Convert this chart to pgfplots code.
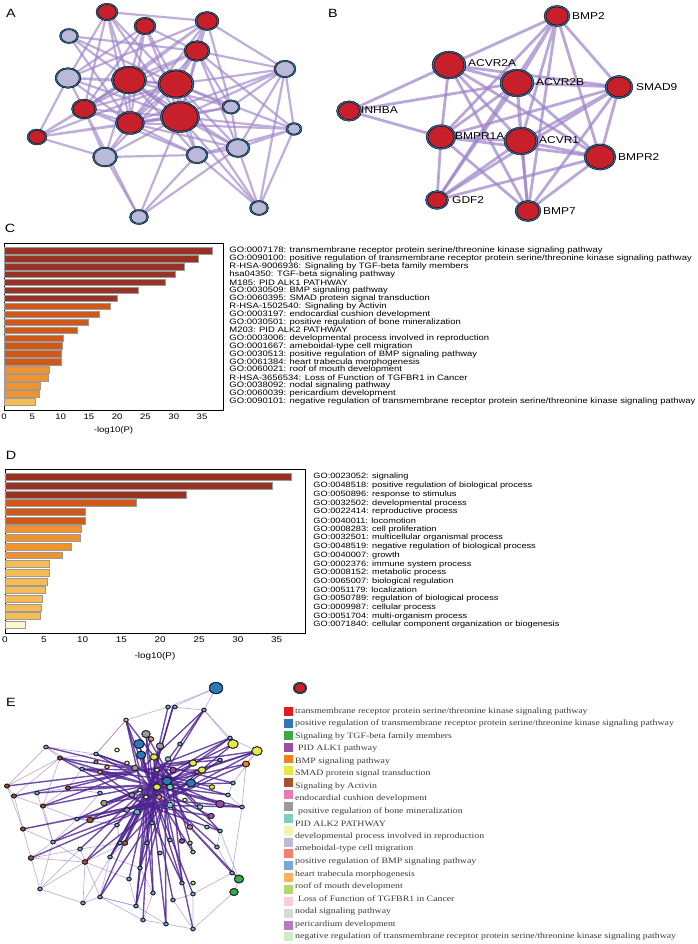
\documentclass[border=0pt]{standalone}
\usepackage{fontspec}
\setmainfont{Liberation Sans}[FakeStretch=1.2]
\newfontfamily\legfont{Liberation Serif}[FakeStretch=1.2]
\usepackage{pgfplots}
\usepackage{pgfplotstable}
\pgfplotsset{compat=1.18}
\definecolor{nred}{HTML}{C8202A}
\definecolor{nlav}{HTML}{B9B9D9}
\definecolor{nbord}{HTML}{2E72A6}
\definecolor{edgeA}{HTML}{9C82C8}
\definecolor{edgeDark}{HTML}{4B1F8E}
\definecolor{edgeLight}{HTML}{8B6FC0}
\definecolor{cDark}{HTML}{983224}
\definecolor{cOr}{HTML}{D0591A}
\definecolor{cLor}{HTML}{F0922E}
\definecolor{cYel}{HTML}{F5BB55}
\definecolor{cPale}{HTML}{FBF6D2}
\definecolor{barEdge}{HTML}{9A9A9A}
\definecolor{e1}{HTML}{E41A1C}
\definecolor{e2}{HTML}{2F78B8}
\definecolor{e3}{HTML}{3FA846}
\definecolor{e4}{HTML}{984EA3}
\definecolor{e5}{HTML}{F47F20}
\definecolor{e6}{HTML}{E8E840}
\definecolor{e7}{HTML}{A5522A}
\definecolor{e8}{HTML}{E57CB5}
\definecolor{e9}{HTML}{9A9A9A}
\definecolor{e10}{HTML}{7FCDBB}
\definecolor{e11}{HTML}{F5F1B0}
\definecolor{e12}{HTML}{BEBADA}
\definecolor{e13}{HTML}{F58071}
\definecolor{e14}{HTML}{7AA8D2}
\definecolor{e15}{HTML}{FBB060}
\definecolor{e16}{HTML}{B0D86A}
\definecolor{e17}{HTML}{F9CCE2}
\definecolor{e18}{HTML}{D9D9D9}
\definecolor{e19}{HTML}{B57BBE}
\definecolor{e20}{HTML}{CDEBC6}
\definecolor{ebord}{HTML}{4A88BA}
\definecolor{legtext}{HTML}{3A3A3A}
\pgfplotsset{
  netdot/.style n args={3}{scatter, only marks, mark=*, point meta=y,
    scatter/use mapped color={draw=none, fill=#1},
    visualization depends on={\thisrow{r}-#3 \as \rr},
    scatter/@pre marker code/.append style={/tikz/mark size=\rr, /tikz/yscale=#2}},
  aedge/.style={mark=none, color=edgeA, draw opacity=0.65, line width=2.2pt, line join=round, line cap=round},
  bedge/.style={mark=none, color=edgeA, draw opacity=0.7, line width=2.8pt, line join=round, line cap=round},
  dedge/.style={mark=none, color=edgeDark, draw opacity=0.8, line width=1.4pt, line join=round, line cap=round},
  ledge/.style={mark=none, color=edgeLight, draw opacity=0.55, line width=0.7pt, line join=round, line cap=round},
  legsq/.style={only marks, mark=square*, mark size=4, mark options={fill=#1, draw=#1}},
}
% node tables: x, y (pixels from top-left), r (radius)
\pgfplotstableread{
x y r
69 36 9.5
68 78 13
285 69 11
231 107 9
294 129 8
105 157 12.5
197 155 11
238 148 12
259 208 9.5
139 217 9.5
}\Alav
\pgfplotstableread{
x y r
107 12 11
145 26 11
207 21 12
197 51 13
129 80 17.5
176 84 18
180 117 19.5
84 109 12.5
130 123 14.5
37 137 10
}\Ared
\pgfplotstableread{
x y r
557 16 13
449 65 17
517 83 17
619 87 14
349 111 12.5
441 137 15
521 141 17
600 157 16
437 200 11.5
528 211 13
}\Bred
\pgfplotstableread{
x y r
46 747 2.5
37 793 2.5
40 889 2.5
83 903 2.5
136 906 2.5
166 924 2.5
193 929 2.5
232 873 2.5
242 807 2.5
204 710 2.5
168 707 2.5
175 707 2.5
53 842 2.5
100 793 2.5
77 819 2.5
80 849 2.5
100 897 2.5
129 879 2.5
193 894 2.5
220 831 2.5
180 744 2.5
96 754 2.5
82 769 2.5
110 857 2.5
140 868 2.5
152 823 2.5
137 812 3.5
147 843 2.5
170 840 2.5
160 853 2.5
182 883 2.5
173 900 2.5
153 893 2.5
117 825 2.5
120 843 2.5
143 920 2.5
217 847 2.5
233 783 2.5
230 738 2.5
220 760 2.5
}\Eblue
\pgfplotstableread{
x y r
117 750 2.5
127 763 2.5
146 797 2.5
157 770 2.5
140 790 2.5
185 800 2.5
}\Elyel
\pgfplotstableread{
x y r
126 720 2.5
107 767 2.5
100 772 2.5
96 762 2.3
}\Elor
\pgfplotstableread{
x y r
190 843 2.5
193 883 2.5
}\Elime
\pgfplotstableread{
x y r
90 820 3.5
125 843 3
31 858 3
85 862 3
60 758 2.7
14 796 2.7
23 829 2.7
7 786 2.7
43 806 2.7
68 788 2.7
}\Ebrown
\pgfplotstableread{
x y r
159 797 3
151 739 3
197 772 2.5
}\Esalmon
\pgfplotstableread{
x y r
170 787 3.5
170 805 3.5
168 759 3
200 807 3
207 827 2.5
228 795 2.5
193 852 2.5
}\Eteal
\pgfplotstableread{
x y r
146 734 4.5
160 746 4
135 768 3.5
132 795 3
104 803 3.5
127 810 3
}\Egray
\pgfplotstableread{
x y r
220 804 4.5
211 816 3.5
173 770 3.5
182 841 3
}\Epurple
\pgfplotstableread{
x y r
190 827 3
}\Epurpleb
\pgfplotstableread{
x y r
233 744 5.5
257 751 5.5
154 757 4
193 763 4
202 770 4
157 787 4
212 787 3
}\Eyellow
\pgfplotstableread{
x y r
246 764 3.7
}\Eorange
\pgfplotstableread{
x y r
239 879 5
234 892 4.5
}\Egreen
\pgfplotstableread{
x y r
216 688 7
139 744 5.5
141 755 5
167 781 5
191 783 5
}\Ebig
\pgfplotstableread{
x y r
300 688 6.8
}\Leg
\newcommand{\legf}{\legfont\fontsize{8.2}{9}\selectfont}
\newcommand{\bl}{\fontsize{10}{10}\selectfont}
\begin{document}
\begin{tikzpicture}
\useasboundingbox (0,0) rectangle (698bp,944bp);
\begin{axis}[at={(0,0)}, anchor=south west, scale only axis, width=698bp, height=944bp,
  xmin=0, xmax=698, ymin=0, ymax=944, y dir=reverse, axis lines=none, clip=false, ticks=none]
% ---------------- Panel A edges
\addplot[aedge] coordinates {(107,12) (207,21) (107,12) (129,80) (107,12) (176,84) (107,12) (180,117) (107,12) (84,109) (107,12) (130,123) (107,12) (68,78)};
\addplot[aedge] coordinates {(145,26) (129,80) (145,26) (176,84) (145,26) (180,117) (145,26) (84,109) (145,26) (130,123) (145,26) (68,78) (145,26) (197,51)};
\addplot[aedge] coordinates {(207,21) (197,51) (207,21) (129,80) (207,21) (176,84) (207,21) (84,109) (207,21) (285,69) (207,21) (130,123) (207,21) (180,117) (207,21) (68,78) (207,21) (231,107)};
\addplot[aedge] coordinates {(197,51) (129,80) (197,51) (176,84) (197,51) (180,117) (197,51) (285,69) (197,51) (238,148) (197,51) (231,107) (197,51) (84,109) (197,51) (130,123) (197,51) (69,36) (197,51) (294,129)};
\addplot[aedge] coordinates {(69,36) (129,80) (69,36) (176,84) (69,36) (180,117) (69,36) (130,123)};
\addplot[aedge] coordinates {(68,78) (129,80) (68,78) (176,84) (68,78) (84,109) (68,78) (180,117) (68,78) (130,123) (68,78) (37,137)};
\addplot[aedge] coordinates {(285,69) (176,84) (285,69) (180,117) (285,69) (231,107) (285,69) (294,129) (285,69) (238,148) (285,69) (259,208) (285,69) (130,123)};
\addplot[aedge] coordinates {(294,129) (180,117) (294,129) (238,148) (294,129) (259,208) (294,129) (176,84) (294,129) (130,123) (294,129) (197,155)};
\addplot[aedge] coordinates {(37,137) (84,109) (37,137) (129,80) (37,137) (180,117) (37,137) (105,157) (37,137) (130,123) (37,137) (176,84)};
\addplot[aedge] coordinates {(84,109) (129,80) (84,109) (176,84) (84,109) (180,117) (84,109) (130,123) (84,109) (105,157) (84,109) (197,155) (84,109) (139,217)};
\addplot[aedge] coordinates {(129,80) (176,84) (129,80) (180,117) (129,80) (130,123) (129,80) (105,157) (129,80) (197,155) (129,80) (238,148) (129,80) (231,107)};
\addplot[aedge] coordinates {(176,84) (180,117) (176,84) (130,123) (176,84) (197,155) (176,84) (238,148) (176,84) (105,157) (176,84) (231,107) (176,84) (259,208)};
\addplot[aedge] coordinates {(180,117) (130,123) (180,117) (197,155) (180,117) (238,148) (180,117) (105,157) (180,117) (259,208) (180,117) (231,107) (180,117) (139,217)};
\addplot[aedge] coordinates {(130,123) (105,157) (130,123) (197,155) (130,123) (238,148) (130,123) (231,107)};
\addplot[aedge] coordinates {(105,157) (197,155) (105,157) (139,217)};
\addplot[aedge] coordinates {(197,155) (259,208) (197,155) (139,217) (197,155) (238,148)};
\addplot[aedge] coordinates {(238,148) (259,208) (238,148) (139,217) (238,148) (231,107)};
% Panel A nodes (border layer, then fill layer)
\addplot[netdot={nbord}{0.8}{0}] table {\Alav};
\addplot[netdot={nlav}{0.8}{1.7}] table {\Alav};
\addplot[netdot={nbord}{0.8}{0}] table {\Ared};
\addplot[netdot={nred}{0.8}{1.7}] table {\Ared};
% ---------------- Panel B edges
\addplot[bedge] coordinates {(557,16) (449,65) (557,16) (517,83) (557,16) (619,87) (557,16) (441,137) (557,16) (521,141) (557,16) (600,157) (557,16) (528,211) (557,16) (437,200)};
\addplot[bedge] coordinates {(449,65) (517,83) (449,65) (619,87) (449,65) (349,111) (449,65) (441,137) (449,65) (521,141) (449,65) (600,157) (449,65) (528,211)};
\addplot[bedge] coordinates {(517,83) (619,87) (517,83) (349,111) (517,83) (441,137) (517,83) (521,141) (517,83) (600,157) (517,83) (437,200) (517,83) (528,211)};
\addplot[bedge] coordinates {(619,87) (441,137) (619,87) (521,141) (619,87) (600,157) (619,87) (437,200) (619,87) (528,211)};
\addplot[bedge] coordinates {(349,111) (441,137)};
\addplot[bedge] coordinates {(441,137) (521,141) (441,137) (600,157) (441,137) (437,200) (441,137) (528,211)};
\addplot[bedge] coordinates {(521,141) (600,157) (521,141) (437,200) (521,141) (528,211)};
\addplot[bedge] coordinates {(600,157) (437,200) (600,157) (528,211)};
\addplot[netdot={nbord}{0.82}{0}] table {\Bred};
\addplot[netdot={nred}{0.82}{1.9}] table {\Bred};
\node[anchor=west, font=\bl, inner sep=0] at (axis cs:572,16) {BMP2};
\node[anchor=west, font=\bl, inner sep=0] at (axis cs:468,63) {ACVR2A};
\node[anchor=west, font=\bl, inner sep=0] at (axis cs:536,82) {ACVR2B};
\node[anchor=west, font=\bl, inner sep=0] at (axis cs:636,87) {SMAD9};
\node[anchor=west, font=\bl, inner sep=0] at (axis cs:361,110) {INHBA};
\node[anchor=west, font=\bl, inner sep=0] at (axis cs:455,136) {BMPR1A};
\node[anchor=west, font=\bl, inner sep=0] at (axis cs:539,140) {ACVR1};
\node[anchor=west, font=\bl, inner sep=0] at (axis cs:618,157) {BMPR2};
\node[anchor=west, font=\bl, inner sep=0] at (axis cs:452,200) {GDF2};
\node[anchor=west, font=\bl, inner sep=0] at (axis cs:543,211) {BMP7};
% ---------------- Panel labels
\node[font=\fontsize{12}{12}\selectfont] at (axis cs:11,13) {A};
\node[font=\fontsize{12}{12}\selectfont] at (axis cs:333,13) {B};
\node[font=\fontsize{12}{12}\selectfont] at (axis cs:10,228) {C};
\node[font=\fontsize{12}{12}\selectfont] at (axis cs:11,455) {D};
\node[font=\fontsize{12}{12}\selectfont] at (axis cs:11,702) {E};
% ---------------- Panel E light edges
\addplot[ledge] coordinates {(46,747) (60,758) (43,806) (53,842) (31,858) (40,889) (83,903) (100,897) (136,906) (166,924) (193,929) (193,894) (232,873) (239,879)};
\addplot[ledge] coordinates {(46,747) (7,786) (14,796) (37,793) (68,788) (82,769) (46,747)};
\addplot[ledge] coordinates {(7,786) (23,829) (31,858) (80,849) (100,897) (143,920) (166,924)};
\addplot[ledge] coordinates {(7,786) (60,758) (100,772) (82,769)};
\addplot[ledge] coordinates {(23,829) (77,819) (53,842) (85,862) (40,889) (53,842)};
\addplot[ledge] coordinates {(14,796) (43,806) (77,819) (90,820)};
\addplot[ledge] coordinates {(83,903) (85,862) (125,843) (110,857) (83,903)};
\addplot[ledge] coordinates {(216,688) (204,710) (230,738) (257,751) (246,764) (242,807) (228,795) (233,783) (257,751)};
\addplot[ledge] coordinates {(216,688) (173,707) (168,707) (126,720) (96,754) (46,747)};
\addplot[ledge] coordinates {(216,688) (168,707) (173,707) (204,710) (233,744)};
\addplot[ledge] coordinates {(242,807) (232,873) (217,847) (220,831) (239,879) (234,892) (193,929) (173,900) (193,894)};
\addplot[ledge] coordinates {(31,858) (85,862) (129,879) (136,906) (100,897) (110,857) (140,868) (153,893) (143,920)};
\addplot[ledge] coordinates {(37,793) (53,842) (23,829) (14,796) (60,758) (96,754) (126,720)};
\addplot[ledge] coordinates {(40,889) (80,849) (120,843) (117,825) (77,819) (100,793) (68,788) (43,806)};
% Panel E dark edges (bundles)
\addplot[dedge] coordinates {(150,785) (126,720) (150,785) (139,744) (150,785) (146,734) (150,785) (168,707) (150,785) (173,707) (150,785) (230,738) (150,785) (233,744) (150,785) (246,764) (150,785) (220,804) (150,785) (242,807) (150,785) (211,816) (150,785) (220,831) (150,785) (217,847) (150,785) (193,852) (150,785) (182,883) (150,785) (193,894) (150,785) (173,900) (150,785) (166,924) (150,785) (153,893) (150,785) (143,920) (150,785) (136,906) (150,785) (140,868) (150,785) (129,879) (150,785) (110,857) (150,785) (100,897) (150,785) (120,843) (150,785) (117,825) (150,785) (90,820) (150,785) (77,819) (150,785) (53,842) (150,785) (80,849) (150,785) (85,862) (150,785) (60,758) (150,785) (82,769) (150,785) (96,754) (150,785) (100,772) (150,785) (68,788) (150,785) (105,803) (150,785) (43,806) (150,785) (37,793) (150,785) (257,751) (150,785) (228,795) (150,785) (233,783) (150,785) (204,710)};
\addplot[dedge] coordinates {(165,800) (233,744) (165,800) (257,751) (165,800) (246,764) (165,800) (220,760) (165,800) (242,807) (165,800) (232,873) (165,800) (239,879) (165,800) (193,929) (165,800) (166,924) (165,800) (100,897) (165,800) (85,862) (165,800) (53,842) (165,800) (23,829) (165,800) (125,843) (165,800) (90,820) (165,800) (136,906) (165,800) (31,858)};
\addplot[dedge] coordinates {(140,770) (60,758) (140,770) (46,747) (140,770) (14,796) (140,770) (7,786) (140,770) (43,806) (140,770) (68,788) (140,770) (96,754) (140,770) (82,769) (140,770) (126,720) (140,770) (151,739) (140,770) (204,710) (140,770) (193,763) (140,770) (202,770) (140,770) (212,787) (140,770) (220,804)};
\addplot[dedge] coordinates {(160,765) (230,738) (160,765) (257,751) (160,765) (220,760) (160,765) (233,783) (160,765) (200,807) (160,765) (190,827) (160,765) (182,841) (160,765) (170,840) (160,765) (147,843) (160,765) (152,823) (160,765) (125,843) (160,765) (110,857) (160,765) (140,868)};
\addplot[dedge] coordinates {(155,795) (139,744) (155,795) (141,755) (155,795) (167,781) (155,795) (191,783) (155,795) (154,757) (155,795) (193,763) (155,795) (202,770) (155,795) (157,787) (155,795) (173,770) (155,795) (170,787) (155,795) (170,805) (155,795) (159,797) (155,795) (146,734) (155,795) (160,746) (155,795) (135,768) (155,795) (132,795) (155,795) (104,803) (155,795) (127,810) (155,795) (137,812)};
\addplot[dedge] coordinates {(145,805) (60,758) (145,805) (90,820) (145,805) (125,843) (145,805) (110,857) (145,805) (136,906) (145,805) (153,893) (145,805) (182,883) (145,805) (211,816) (145,805) (220,831) (145,805) (242,807) (145,805) (204,710) (145,805) (173,707) (145,805) (126,720) (145,805) (100,772) (145,805) (77,819)};
\addplot[dedge] coordinates {(172,780) (126,720) (172,780) (146,734) (172,780) (230,738) (172,780) (257,751) (172,780) (228,795) (172,780) (220,831) (172,780) (193,852) (172,780) (182,883) (172,780) (140,868) (172,780) (96,754) (172,780) (82,769) (172,780) (105,803)};
% Panel E nodes (border layer, then fill layer)
\addplot[netdot={ebord}{0.85}{0}] table {\Eblue};
\addplot[netdot={e14}{0.85}{0.5}] table {\Eblue};
\addplot[netdot={ebord}{0.85}{0}] table {\Elyel};
\addplot[netdot={e11}{0.85}{0.5}] table {\Elyel};
\addplot[netdot={ebord}{0.85}{0}] table {\Elor};
\addplot[netdot={e15}{0.85}{0.5}] table {\Elor};
\addplot[netdot={ebord}{0.85}{0}] table {\Elime};
\addplot[netdot={e16}{0.85}{0.5}] table {\Elime};
\addplot[netdot={ebord}{0.85}{0}] table {\Ebrown};
\addplot[netdot={e7}{0.85}{0.5}] table {\Ebrown};
\addplot[netdot={ebord}{0.85}{0}] table {\Esalmon};
\addplot[netdot={e13}{0.85}{0.5}] table {\Esalmon};
\addplot[netdot={ebord}{0.85}{0}] table {\Eteal};
\addplot[netdot={e10}{0.85}{0.5}] table {\Eteal};
\addplot[netdot={ebord}{0.85}{0}] table {\Egray};
\addplot[netdot={e9}{0.85}{0.5}] table {\Egray};
\addplot[netdot={ebord}{0.85}{0}] table {\Epurple};
\addplot[netdot={e4}{0.85}{0.5}] table {\Epurple};
\addplot[netdot={ebord}{0.85}{0}] table {\Epurpleb};
\addplot[netdot={e19}{0.85}{0.5}] table {\Epurpleb};
\addplot[netdot={ebord}{0.85}{0}] table {\Eyellow};
\addplot[netdot={e6}{0.85}{0.6}] table {\Eyellow};
\addplot[netdot={ebord}{0.85}{0}] table {\Eorange};
\addplot[netdot={e5}{0.85}{0.5}] table {\Eorange};
\addplot[netdot={ebord}{0.85}{0}] table {\Egreen};
\addplot[netdot={e3}{0.85}{0.6}] table {\Egreen};
\addplot[netdot={ebord}{0.85}{0}] table {\Ebig};
\addplot[netdot={e2}{0.85}{0.6}] table {\Ebig};
% ---------------- Panel E legend
\addplot[netdot={nbord}{0.85}{0}] table {\Leg};
\addplot[netdot={nred}{0.85}{1.2}] table {\Leg};
\addplot[legsq=e1] coordinates {(288,711.3)};
\addplot[legsq=e2] coordinates {(288,723.2)};
\addplot[legsq=e3] coordinates {(288,735.0)};
\addplot[legsq=e4] coordinates {(288,746.9)};
\addplot[legsq=e5] coordinates {(288,758.7)};
\addplot[legsq=e6] coordinates {(288,770.6)};
\addplot[legsq=e7] coordinates {(288,782.5)};
\addplot[legsq=e8] coordinates {(288,794.3)};
\addplot[legsq=e9] coordinates {(288,806.2)};
\addplot[legsq=e10] coordinates {(288,818.0)};
\addplot[legsq=e11] coordinates {(288,829.9)};
\addplot[legsq=e12] coordinates {(288,841.8)};
\addplot[legsq=e13] coordinates {(288,853.6)};
\addplot[legsq=e14] coordinates {(288,865.5)};
\addplot[legsq=e15] coordinates {(288,877.3)};
\addplot[legsq=e16] coordinates {(288,889.2)};
\addplot[legsq=e17] coordinates {(288,901.1)};
\addplot[legsq=e18] coordinates {(288,912.9)};
\addplot[legsq=e19] coordinates {(288,924.8)};
\addplot[legsq=e20] coordinates {(288,936.6)};
\node[anchor=west, font=\legf, text=legtext, inner sep=0] at (axis cs:295,711.3) {transmembrane receptor protein serine/threonine kinase signaling pathway};
\node[anchor=west, font=\legf, text=legtext, inner sep=0] at (axis cs:295,723.8) {positive regulation of transmembrane receptor protein serine/threonine kinase signaling pathway};
\node[anchor=west, font=\legf, text=legtext, inner sep=0] at (axis cs:295,736.3) {Signaling by TGF-beta family members};
\node[anchor=west, font=\legf, text=legtext, inner sep=0] at (axis cs:298,748.9) {PID ALK1 pathway};
\node[anchor=west, font=\legf, text=legtext, inner sep=0] at (axis cs:295,761.4) {BMP signaling pathway};
\node[anchor=west, font=\legf, text=legtext, inner sep=0] at (axis cs:295,773.9) {SMAD protein signal transduction};
\node[anchor=west, font=\legf, text=legtext, inner sep=0] at (axis cs:295,786.4) {Signaling by Activin};
\node[anchor=west, font=\legf, text=legtext, inner sep=0] at (axis cs:295,798.9) {endocardial cushion development};
\node[anchor=west, font=\legf, text=legtext, inner sep=0] at (axis cs:298,811.5) {positive regulation of bone mineralization};
\node[anchor=west, font=\legf, text=legtext, inner sep=0] at (axis cs:295,824.0) {PID ALK2 PATHWAY};
\node[anchor=west, font=\legf, text=legtext, inner sep=0] at (axis cs:295,836.5) {developmental process involved in reproduction};
\node[anchor=west, font=\legf, text=legtext, inner sep=0] at (axis cs:295,849.0) {ameboidal-type cell migration};
\node[anchor=west, font=\legf, text=legtext, inner sep=0] at (axis cs:295,861.5) {positive regulation of BMP signaling pathway};
\node[anchor=west, font=\legf, text=legtext, inner sep=0] at (axis cs:295,874.1) {heart trabecula morphogenesis};
\node[anchor=west, font=\legf, text=legtext, inner sep=0] at (axis cs:295,886.6) {roof of mouth development};
\node[anchor=west, font=\legf, text=legtext, inner sep=0] at (axis cs:298,899.1) {Loss of Function of TGFBR1 in Cancer};
\node[anchor=west, font=\legf, text=legtext, inner sep=0] at (axis cs:295,911.6) {nodal signaling pathway};
\node[anchor=west, font=\legf, text=legtext, inner sep=0] at (axis cs:295,924.2) {pericardium development};
\node[anchor=west, font=\legf, text=legtext, inner sep=0] at (axis cs:295,936.7) {negative regulation of transmembrane receptor protein serine/threonine kinase signaling pathway};
\end{axis}
% ---------------- Panel C
\begin{axis}[at={(4bp,534bp)}, anchor=south west, scale only axis, width=219bp, height=167bp,
  xmin=0, xmax=38.7, ymin=0.03, ymax=21.04, y dir=reverse,
  xbar, bar width=0.82, bar shift=0pt,
  xtick={0,5,...,35}, ytick={1,...,20}, yticklabel pos=right,
  yticklabels={GO:0007178: transmembrane receptor protein serine/threonine kinase signaling pathway,
  GO:0090100: positive regulation of transmembrane receptor protein serine/threonine kinase signaling pathway,
  R-HSA-9006936: Signaling by TGF-beta family members,
  hsa04350: TGF-beta signaling pathway,
  M185: PID ALK1 PATHWAY,
  GO:0030509: BMP signaling pathway,
  GO:0060395: SMAD protein signal transduction,
  R-HSA-1502540: Signaling by Activin,
  GO:0003197: endocardial cushion development,
  GO:0030501: positive regulation of bone mineralization,
  M203: PID ALK2 PATHWAY,
  GO:0003006: developmental process involved in reproduction,
  GO:0001667: ameboidal-type cell migration,
  GO:0030513: positive regulation of BMP signaling pathway,
  GO:0061384: heart trabecula morphogenesis,
  GO:0060021: roof of mouth development,
  R-HSA-3656534: Loss of Function of TGFBR1 in Cancer,
  GO:0038092: nodal signaling pathway,
  GO:0060039: pericardium development,
  GO:0090101: negative regulation of transmembrane receptor protein serine/threonine kinase signaling pathway},
  y tick label style={font=\fontsize{7.9}{8}\selectfont, anchor=west, inner xsep=2bp, inner ysep=0.5bp},
  x tick label style={font=\fontsize{8}{9}\selectfont, inner sep=3.5bp},
  xlabel={-log10(P)}, xlabel style={font=\fontsize{8}{9}\selectfont, inner sep=1bp, yshift=-3bp},
  tick style={draw=none}, axis line style={line width=0.6pt},
  /pgf/number format/assume math mode=true]
\addplot[fill=cDark, draw=barEdge, line width=0.7pt] coordinates {(36.8,1) (34.4,2) (31.8,3) (30.3,4) (28.5,5) (23.8,6) (20.0,7)};
\addplot[fill=cOr, draw=barEdge, line width=0.7pt] coordinates {(18.8,8) (16.9,9) (14.9,10) (13.0,11) (10.4,12) (10.3,13) (10.2,14) (10.2,15)};
\addplot[fill=cLor, draw=barEdge, line width=0.7pt] coordinates {(8.0,16) (7.8,17) (6.4,18) (6.3,19)};
\addplot[fill=cYel, draw=barEdge, line width=0.7pt] coordinates {(5.5,20)};
\end{axis}
% ---------------- Panel D
\begin{axis}[at={(5bp,311bp)}, anchor=south west, scale only axis, width=300bp, height=164bp,
  xmin=0, xmax=38.65, ymin=0.08, ymax=18.92, y dir=reverse,
  xbar, bar width=0.8, bar shift=0pt,
  xtick={0,5,...,35}, ytick={1,...,18}, yticklabel pos=right,
  yticklabels={GO:0023052: signaling,
  GO:0048518: positive regulation of biological process,
  GO:0050896: response to stimulus,
  GO:0032502: developmental process,
  GO:0022414: reproductive process,
  GO:0040011: locomotion,
  GO:0008283: cell proliferation,
  GO:0032501: multicellular organismal process,
  GO:0048519: negative regulation of biological process,
  GO:0040007: growth,
  GO:0002376: immune system process,
  GO:0008152: metabolic process,
  GO:0065007: biological regulation,
  GO:0051179: localization,
  GO:0050789: regulation of biological process,
  GO:0009987: cellular process,
  GO:0051704: multi-organism process,
  GO:0071840: cellular component organization or biogenesis},
  y tick label style={font=\fontsize{7.7}{8}\selectfont, anchor=west, inner xsep=4bp, inner ysep=0.5bp},
  x tick label style={font=\fontsize{8.3}{9}\selectfont, inner sep=4bp},
  xlabel={-log10(P)}, xlabel style={font=\fontsize{8.3}{9}\selectfont, inner sep=1bp, yshift=-4bp},
  tick style={draw=none}, axis line style={line width=0.6pt},
  /pgf/number format/assume math mode=true]
\addplot[fill=cDark, draw=barEdge, line width=0.7pt] coordinates {(36.9,1) (34.5,2) (23.3,3)};
\addplot[fill=cOr, draw=barEdge, line width=0.7pt] coordinates {(16.9,4) (10.4,5) (10.3,6)};
\addplot[fill=cLor, draw=barEdge, line width=0.7pt] coordinates {(9.9,7) (9.7,8) (8.5,9) (7.4,10)};
\addplot[fill=cYel, draw=barEdge, line width=0.7pt] coordinates {(5.7,11) (5.7,12) (5.5,13) (5.2,14) (4.8,15) (4.7,16) (4.5,17)};
\addplot[fill=cPale, draw=barEdge, line width=0.7pt] coordinates {(2.6,18)};
\end{axis}
\end{tikzpicture}
\end{document}
